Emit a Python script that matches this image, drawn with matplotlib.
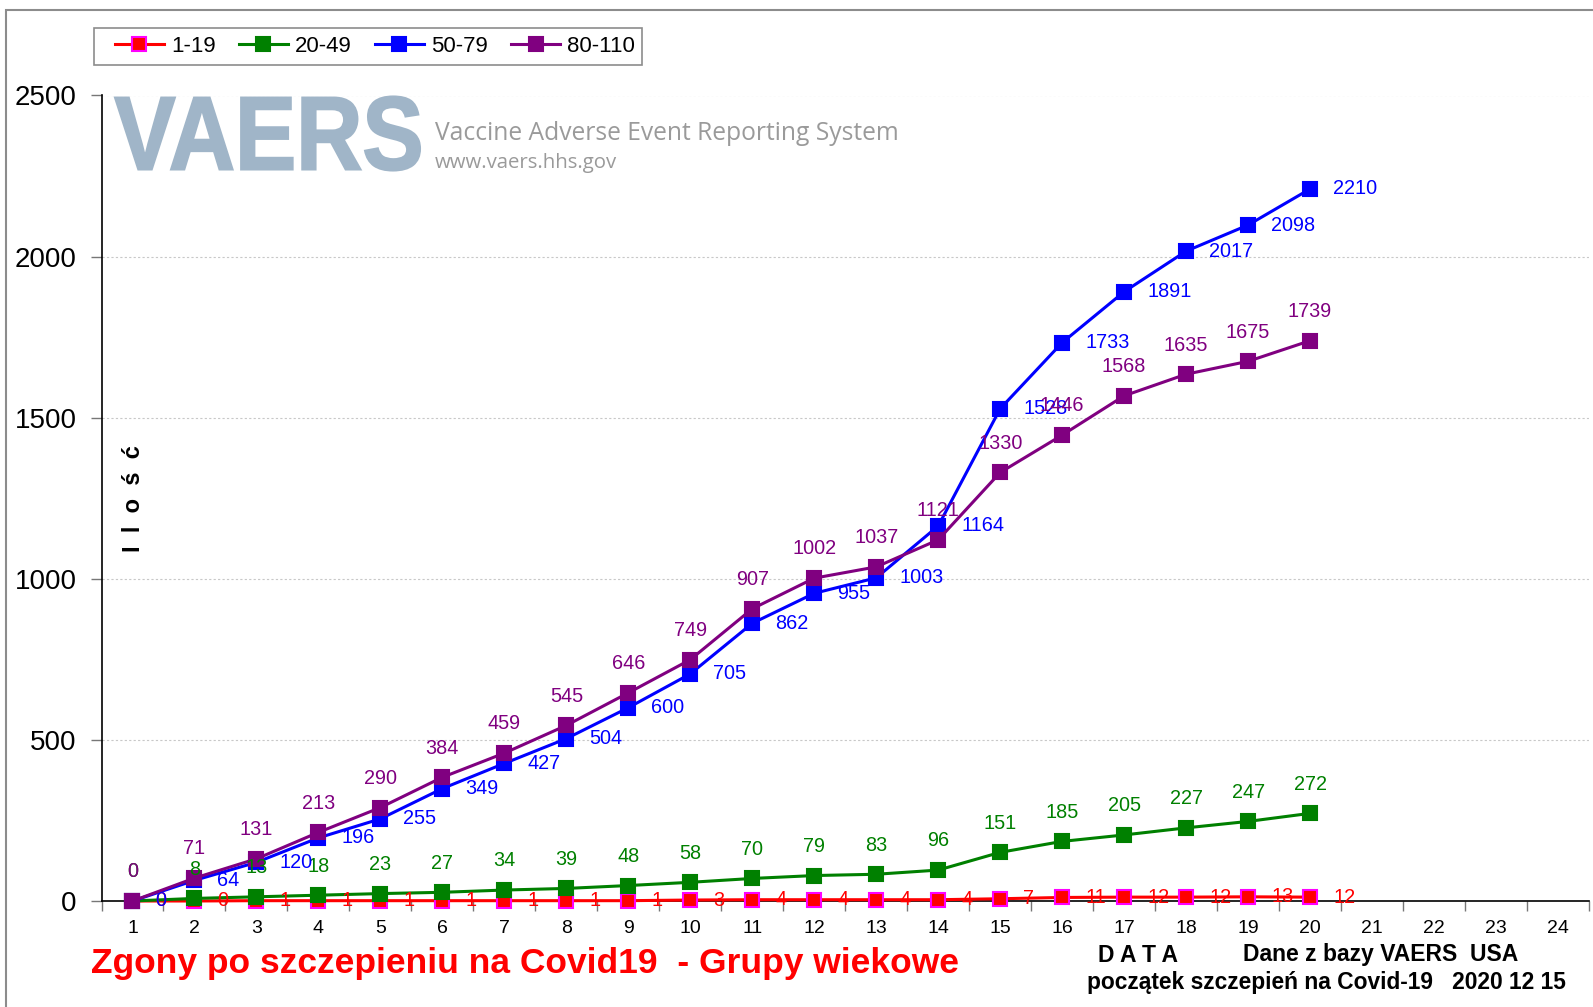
import matplotlib
matplotlib.use("Agg")
import matplotlib.pyplot as plt
from matplotlib.textpath import TextPath
from matplotlib.patches import PathPatch, Rectangle
from matplotlib.font_manager import FontProperties
from matplotlib.transforms import Affine2D, IdentityTransform

plt.rcParams['font.family'] = ['Liberation Sans', 'DejaVu Sans']

days = list(range(1, 21))
xticks = list(range(1, 25))
g_1_19 = [0, 0, 1, 1, 1, 1, 1, 1, 1, 3, 4, 4, 4, 4, 7, 11, 12, 12, 13, 12]
g_20_49 = [0, 8, 13, 18, 23, 27, 34, 39, 48, 58, 70, 79, 83, 96, 151, 185, 205, 227, 247, 272]
g_50_79 = [0, 64, 120, 196, 255, 349, 427, 504, 600, 705, 862, 955, 1003, 1164, 1528, 1733, 1891, 2017, 2098, 2210]
g_80_110 = [0, 71, 131, 213, 290, 384, 459, 545, 646, 749, 907, 1002, 1037, 1121, 1330, 1446, 1568, 1635, 1675, 1739]
labels = ['1-19', '20-49', '50-79', '80-110']
yticks = [0, 500, 1000, 1500, 2000, 2500]

W, H = 1593, 1007
fig = plt.figure(figsize=(W / 100, H / 100), dpi=100)

# outer frame (left + top gray lines)
fig.add_artist(Rectangle((6 / W, -0.1), 1.5, 1.1 - 10 / H, transform=fig.transFigure,
                         fill=False, edgecolor='#8c8c8c', linewidth=1.5))

ax_l, ax_r = 101.5 / W, 1589 / W
ax_b, ax_t = 1 - 901 / H, 1 - 95.5 / H
ax = fig.add_axes([ax_l, ax_b, ax_r - ax_l, ax_t - ax_b])

# VAERS logo
fp_logo = FontProperties(family='Liberation Sans', weight='bold')
tp = TextPath((0, 0), 'VAERS', size=100, prop=fp_logo)
ext = tp.get_extents()
x0, x1 = 115, 420
yb, yt = H - 170.5, H - 96.5
sx = (x1 - x0) / ext.width
sy = (yt - yb) / ext.height
tr = Affine2D().translate(-ext.x0, -ext.y0).scale(sx, sy).translate(x0, yb)
fig.add_artist(PathPatch(tr.transform_path(tp), transform=IdentityTransform(),
                         facecolor='#a0b5c8', edgecolor='#a0b5c8', linewidth=1.5, zorder=0))
fig.text(435 / W, 1 - 134 / H, 'Vaccine Adverse Event Reporting System', family='Open Sans',
         fontsize=17.7, color='#9a9a9a', va='center', ha='left')
fig.text(435 / W, 1 - 163 / H, 'www.vaers.hhs.gov', family='Open Sans',
         fontsize=14.7, color='#9a9a9a', va='center', ha='left')

ax.patch.set_alpha(0)

series = [
    (g_1_19, 'red', 'red', '#ff00ff', 'right'),
    (g_20_49, 'green', 'green', 'green', 'above'),
    (g_50_79, 'blue', 'blue', 'blue', 'right'),
    (g_80_110, 'purple', 'purple', 'purple', 'above'),
]
handles = []
for i, (vals, col, fc, ec, pos) in enumerate(series):
    ln, = ax.plot(days, vals, color=col, linewidth=2.2, marker='s', markersize=10,
                  markerfacecolor=fc, markeredgecolor=ec, markeredgewidth=1.5,
                  zorder=3 + i, clip_on=False)
    handles.append(ln)
    for d, v in zip(days, vals):
        if pos == 'above':
            ax.annotate(str(v), (d, v), xytext=(0, 21), textcoords='offset points',
                        ha='center', va='center', fontsize=14.3, color=col, zorder=10)
        else:
            ax.annotate(str(v), (d, v), xytext=(16.5, 0), textcoords='offset points',
                        ha='left', va='center', fontsize=14.3, color=col, zorder=10)

ax.set_xlim(0.5, 24.5)
ax.set_ylim(0, 2500)
ax.set_yticks(yticks)
ax.set_yticklabels([str(t) for t in yticks], fontsize=20)
ax.set_xticks(xticks)
ax.set_xticklabels([str(t) for t in xticks], fontsize=14)
ax.set_xticks([x + 0.5 for x in range(0, 25)], minor=True)
ax.tick_params(axis='x', which='major', length=0, pad=14)
ax.tick_params(axis='x', which='minor', length=7, color='#777777', width=1)
ax.tick_params(axis='y', which='major', length=8, width=1, pad=10, color='#777777')
for s in ['top', 'right']:
    ax.spines[s].set_visible(False)
ax.spines['left'].set_color('black')
ax.spines['bottom'].set_color('black')
ax.spines['left'].set_linewidth(1.2)
ax.spines['bottom'].set_linewidth(1.2)
ax.grid(axis='y', color='#c8c8c8', linestyle=(0, (2, 2)), linewidth=0.8)
ax.set_axisbelow(True)

fig.text(134 / W, 1 - 499 / H, 'I  l  o  ś  ć', rotation=90, fontsize=17, fontweight='bold',
         ha='center', va='center')

# legend
fig.add_artist(Rectangle((93.5 / W, 1 - 65 / H), (642 - 93.5) / W, (65 - 27.5) / H,
                         transform=fig.transFigure, fill=False, edgecolor='#8c8c8c',
                         linewidth=1.2))
leg = fig.legend(handles=handles, labels=labels, loc='center left',
                 bbox_to_anchor=(115 / W, 1 - 46 / H), ncol=4, fontsize=16,
                 frameon=False, handlelength=2.2, handletextpad=0.32,
                 columnspacing=1.05, borderpad=0, borderaxespad=0)

fig.text(91 / W, 1 - 964 / H, 'Zgony po szczepieniu na Covid19  - Grupy wiekowe', color='red',
         fontsize=25.5, fontweight='bold', ha='left', va='center')
fig.text(1098 / W, 1 - 955 / H, 'D A T A', fontsize=16.5, fontweight='bold', ha='left', va='center')
fig.text(1243 / W, 1 - 955 / H, 'Dane z bazy VAERS  USA', fontsize=16.5, fontweight='bold',
         ha='left', va='center')
fig.text(1087 / W, 1 - 982 / H, 'początek szczepień na Covid-19   2020 12 15', fontsize=16.4,
         fontweight='bold', ha='left', va='center')

fig.savefig('out.png', dpi=100)
